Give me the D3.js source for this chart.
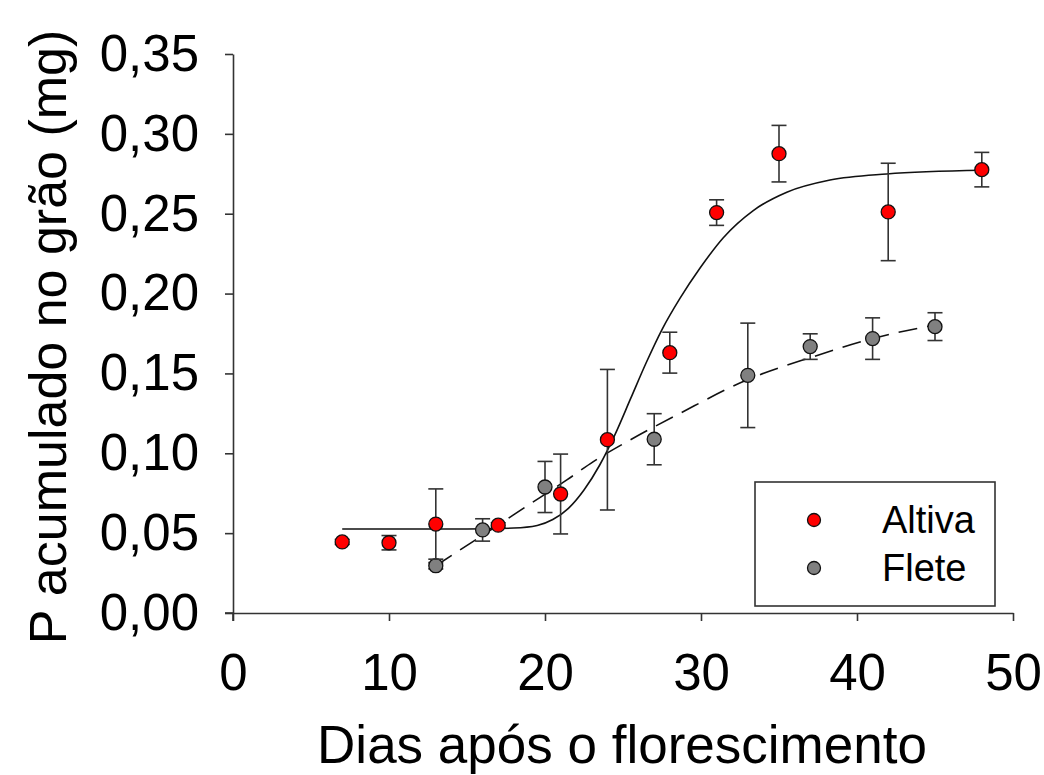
<!DOCTYPE html>
<html><head><meta charset="utf-8">
<script src="https://cdn.jsdelivr.net/npm/d3@7"></script>
<style>
html,body{margin:0;padding:0;background:#fff;}
text{font-family:"Liberation Sans",Arial,sans-serif;fill:#000;}
</style></head>
<body><svg id="c" width="1044" height="775"></svg>
<script>
// Data
const altivaDays = [7, 10, 13, 17, 21, 24, 28, 31, 35, 42, 48];
const altivaP    = [0.0445, 0.044, 0.0557, 0.055, 0.0745, 0.1085, 0.163, 0.2507, 0.2876, 0.2511, 0.2776];
const altivaErr  = [0.0015, 0.0045, 0.022, 0.0015, 0.025, 0.044, 0.0128, 0.008, 0.0177, 0.0305, 0.0108];

const fleteDays = [13, 16, 20, 27, 33, 37, 41, 45];
const fleteP    = [0.0296, 0.052, 0.0789, 0.1088, 0.1488, 0.1668, 0.1718, 0.1793];
const fleteErr  = [0.002, 0.007, 0.016, 0.016, 0.0327, 0.008, 0.013, 0.0087];

// fitted curves
const altivaFitDays = [7, 15, 18, 19.5, 20.5, 21.5, 22.5, 23.5, 24.5, 25.5, 26.5, 27.5, 28.65, 29.94, 31.43, 33.35, 35.5, 38.27, 41.9, 48];
const altivaFitP    = [0.0526, 0.0526, 0.0532, 0.0548, 0.0585, 0.0655, 0.0770, 0.0925, 0.1120, 0.1345, 0.1570, 0.1775, 0.1970, 0.2160, 0.2350, 0.2520, 0.2635, 0.2711, 0.2749, 0.2772];
const fleteFitDays = [13, 17, 19, 21.4, 23.1, 25.45, 28.65, 32.93, 37.2, 41.05, 45];
const fleteFitP    = [0.0296, 0.0551, 0.068, 0.0833, 0.0948, 0.1083, 0.125, 0.1459, 0.1605, 0.172, 0.1803];

const xTicks = [0, 10, 20, 30, 40, 50];
const yTicks = [0, 0.05, 0.10, 0.15, 0.20, 0.25, 0.30, 0.35];
const seriesNames = ["Altiva", "Flete"];
const seriesColors = ["#ff0000", "#808080"];

const svg = d3.select("#c");
const x = d3.scaleLinear().domain([0, 50]).range([233, 1013]);
const y = d3.scaleLinear().domain([0, 0.35]).range([613, 54]);
const axisColor = "#333";

// axes
const xAxis = svg.append("g").attr("transform", "translate(0,613)")
  .call(d3.axisBottom(x).tickValues(xTicks).tickSize(8).tickSizeOuter(0).tickPadding(33).tickFormat(d3.format("d")));
const yAxis = svg.append("g").attr("transform", "translate(233,0)")
  .call(d3.axisLeft(y).tickValues(yTicks).tickSize(8).tickSizeOuter(0).tickPadding(26)
    .tickFormat(d => d3.format(".2f")(d).replace(".", ",")));
[xAxis, yAxis].forEach(g => {
  g.select(".domain").attr("stroke", axisColor).attr("stroke-width", 1.6);
  g.selectAll(".tick line").attr("stroke", axisColor).attr("stroke-width", 1.6);
  g.selectAll(".tick text").attr("font-size", 51).attr("font-family", "Liberation Sans, Arial, sans-serif").attr("fill", "#000");
});
xAxis.selectAll(".tick text").attr("dy", "0.71em");
// extend y axis line below the x axis (as in the reference) and x axis to the left
svg.append("line").attr("x1", x(0)).attr("x2", x(0)).attr("y1", y(0)).attr("y2", y(0) + 8)
  .attr("stroke", axisColor).attr("stroke-width", 1.6);
svg.append("line").attr("x1", x(0) - 8).attr("x2", x(0)).attr("y1", y(0)).attr("y2", y(0))
  .attr("stroke", axisColor).attr("stroke-width", 1.6);

// axis titles
svg.append("text").attr("x", 622).attr("y", 763).attr("text-anchor", "middle")
  .attr("font-size", 53).text("Dias após o florescimento");
svg.append("text").attr("transform", "translate(66,337) rotate(-90)").attr("text-anchor", "middle")
  .attr("font-size", 52).text("P acumulado no grão (mg)");

// fitted curves
const line = d3.line().x(d => x(d[0])).y(d => y(d[1])).curve(d3.curveMonotoneX);
svg.append("path").datum(altivaFitDays.map((d, i) => [d, altivaFitP[i]]))
  .attr("d", line).attr("fill", "none").attr("stroke", "#111").attr("stroke-width", 1.6);
svg.append("path").datum(fleteFitDays.map((d, i) => [d, fleteFitP[i]]))
  .attr("d", line).attr("fill", "none").attr("stroke", "#111").attr("stroke-width", 1.6)
  .attr("stroke-dasharray", "19,10");

// error bars + points
function drawSeries(days, vals, errs, color) {
  const data = days.map((d, i) => ({d, v: vals[i], e: errs[i]}));
  const g = svg.append("g");
  const cap = 7.5;
  data.forEach(p => {
    const eb = g.append("g").attr("stroke", "#333").attr("stroke-width", 1.6);
    eb.append("line").attr("x1", x(p.d)).attr("x2", x(p.d)).attr("y1", y(p.v - p.e)).attr("y2", y(p.v + p.e));
    eb.append("line").attr("x1", x(p.d) - cap).attr("x2", x(p.d) + cap).attr("y1", y(p.v + p.e)).attr("y2", y(p.v + p.e));
    eb.append("line").attr("x1", x(p.d) - cap).attr("x2", x(p.d) + cap).attr("y1", y(p.v - p.e)).attr("y2", y(p.v - p.e));
  });
  g.selectAll("circle").data(data).join("circle")
    .attr("cx", p => x(p.d)).attr("cy", p => y(p.v)).attr("r", 7)
    .attr("fill", color).attr("stroke", "#111").attr("stroke-width", 1.3);
}
drawSeries(fleteDays, fleteP, fleteErr, seriesColors[1]);
drawSeries(altivaDays, altivaP, altivaErr, seriesColors[0]);

// legend
const lg = svg.append("g");
lg.append("rect").attr("x", 755).attr("y", 482).attr("width", 240).attr("height", 124)
  .attr("fill", "#fff").attr("stroke", "#333").attr("stroke-width", 1.6);
seriesNames.forEach((n, i) => {
  const cy = 520 + i * 48;
  lg.append("circle").attr("cx", 814).attr("cy", cy).attr("r", 6.5)
    .attr("fill", seriesColors[i]).attr("stroke", "#111").attr("stroke-width", 1.3);
  lg.append("text").attr("x", 882).attr("y", cy + 13).attr("font-size", 38).text(n);
});
</script></body></html>
